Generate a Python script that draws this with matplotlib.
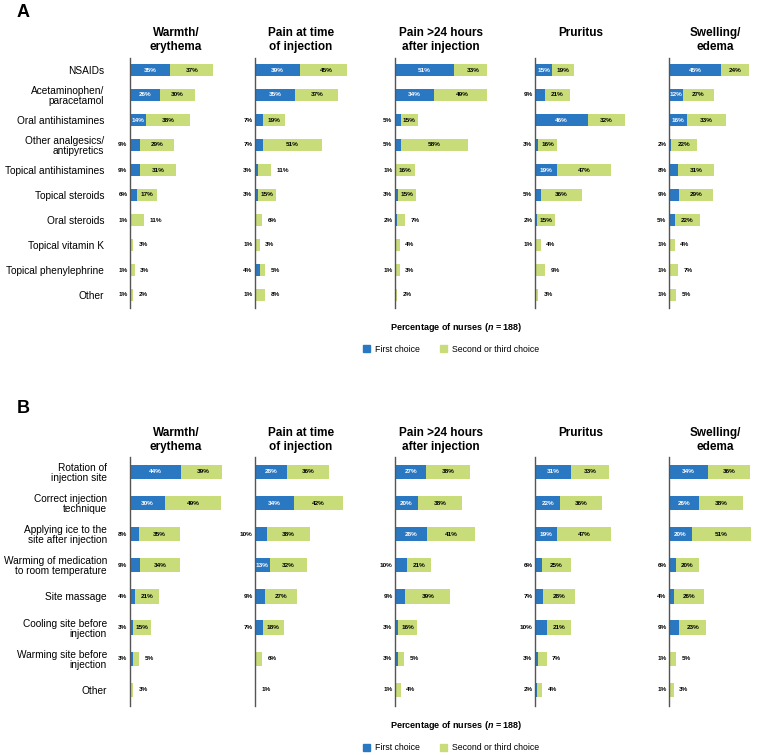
import matplotlib
matplotlib.use("Agg")
import matplotlib.pyplot as plt
from matplotlib.patches import Patch

plt.rcParams['font.family'] = ['Liberation Sans', 'DejaVu Sans']
plt.rcParams['mathtext.fontset'] = 'custom'
plt.rcParams['mathtext.it'] = 'Liberation Sans:italic:bold'
plt.rcParams['mathtext.rm'] = 'Liberation Sans:bold'

# ── Dados ─────────────────────────────────────────────────────────────────────
sintomas = ["Warmth/\nerythema", "Pain at time\nof injection",
            "Pain >24 hours\nafter injection", "Pruritus", "Swelling/\nedema"]

tratamentos_a = ["NSAIDs", "Acetaminophen/\nparacetamol", "Oral antihistamines",
                 "Other analgesics/\nantipyretics", "Topical antihistamines",
                 "Topical steroids", "Oral steroids", "Topical vitamin K",
                 "Topical phenylephrine", "Other"]

primeira_a = [
    [35, 26, 14, 9, 9, 6, 1, 0, 1, 1],
    [39, 35, 7, 7, 3, 3, 0, 1, 4, 1],
    [51, 34, 5, 5, 1, 3, 2, 0, 1, 0],
    [15, 9, 46, 3, 19, 5, 2, 1, 0, 0],
    [45, 12, 16, 2, 8, 9, 5, 1, 1, 1],
]
segunda_a = [
    [37, 30, 38, 29, 31, 17, 11, 3, 3, 2],
    [45, 37, 19, 51, 11, 15, 6, 3, 5, 8],
    [33, 49, 15, 58, 16, 15, 7, 4, 3, 2],
    [19, 21, 32, 16, 47, 36, 15, 4, 9, 3],
    [24, 27, 33, 22, 31, 29, 22, 4, 7, 5],
]

tecnicas_b = ["Rotation of\ninjection site", "Correct injection\ntechnique",
              "Applying ice to the\nsite after injection",
              "Warming of medication\nto room temperature", "Site massage",
              "Cooling site before\ninjection", "Warming site before\ninjection",
              "Other"]

primeira_b = [
    [44, 30, 8, 9, 4, 3, 3, 0],
    [28, 34, 10, 13, 9, 7, 0, 0],
    [27, 20, 28, 10, 9, 3, 3, 1],
    [31, 22, 19, 6, 7, 10, 3, 2],
    [34, 26, 20, 6, 4, 9, 1, 1],
]
segunda_b = [
    [39, 49, 35, 34, 21, 15, 5, 3],
    [36, 42, 38, 32, 27, 18, 6, 1],
    [38, 38, 41, 21, 39, 16, 5, 4],
    [33, 36, 47, 25, 28, 21, 7, 4],
    [36, 38, 51, 20, 26, 23, 5, 3],
]

# ── Layout (em pixels) ───────────────────────────────────────────────────────
W, H = 758, 755
AZUL = "#2B78C2"
VERDE = "#C8DC79"
ESQ_PX = [130, 255, 395, 535, 669]
LARG_PX = 92
ESCALA = 1.155  # px por %

fig = plt.figure(figsize=(W / 100, H / 100), dpi=100)


def desenhar_painel(cats, prim, seg, topo, base, topo_titulo, pad_rotulo, alt_barra):
    n = len(cats)
    y = list(range(n))
    for k in range(5):
        ax = fig.add_axes([ESQ_PX[k] / W, 1 - base / H, LARG_PX / W, (base - topo) / H])
        ax.barh(y, prim[k], height=alt_barra, color=AZUL)
        ax.barh(y, seg[k], left=prim[k], height=alt_barra, color=VERDE)
        ax.set_xlim(0, LARG_PX / ESCALA)
        ax.set_ylim(n - 1 + 0.52, -0.48)
        for s in ["top", "right", "bottom"]:
            ax.spines[s].set_visible(False)
        ax.spines["left"].set_color("#555555")
        ax.spines["left"].set_linewidth(1.0)
        ax.set_xticks([])
        ax.set_yticks(y)
        if k == 0:
            ax.set_yticklabels(cats, fontsize=7.3)
            for lbl in ax.get_yticklabels():
                lbl.set_linespacing(1.0)
            ax.tick_params(axis="y", length=0, pad=pad_rotulo)
        else:
            ax.set_yticklabels([])
            ax.tick_params(axis="y", length=0)

        for i in range(n):
            p, s = prim[k][i], seg[k][i]
            if p >= 12:
                ax.text(p / 2, i, f"{p}%", ha="center", va="center",
                        fontsize=4.6, fontweight="bold", color="white")
            elif p > 0:
                ax.annotate(f"{p}%", (0, i), xytext=(-1.8, 0), textcoords="offset points",
                            ha="right", va="center", fontsize=4.6, fontweight="bold",
                            annotation_clip=False)
            if s >= 13:
                ax.text(p + s / 2, i, f"{s}%", ha="center", va="center",
                        fontsize=4.6, fontweight="bold", color="black")
            elif s > 0:
                ax.annotate(f"{s}%", (p + s, i), xytext=(4, 0), textcoords="offset points",
                            ha="left", va="center", fontsize=4.6, fontweight="bold",
                            annotation_clip=False)

        fig.text((ESQ_PX[k] + LARG_PX / 2) / W, 1 - topo_titulo / H, sintomas[k],
                 ha="center", va="top", fontsize=8.5, fontweight="bold", linespacing=1.2)


desenhar_painel(tratamentos_a, primeira_a, segunda_a, 58, 308, 27, 18.5, 0.48)
desenhar_painel(tecnicas_b, primeira_b, segunda_b, 457, 706, 427, 16.5, 0.46)

fig.text(17 / W, 1 - 4 / H, "A", ha="left", va="top", fontsize=13, fontweight="bold")
fig.text(17 / W, 1 - 400 / H, "B", ha="left", va="top", fontsize=13, fontweight="bold")

legenda = [Patch(color=AZUL, label="First choice"),
           Patch(color=VERDE, label="Second or third choice")]

for y_rot, y_leg in [(327, 349), (726, 748)]:
    fig.text(456 / W, 1 - y_rot / H, "Percentage of nurses ($n$ = 188)",
             ha="center", va="center", fontsize=6.5, fontweight="bold")
    fig.legend(handles=legenda, loc="center", bbox_to_anchor=(451 / W, 1 - y_leg / H),
               ncol=2, frameon=False, fontsize=6.3, handlelength=0.8, handleheight=0.8,
               columnspacing=2.2, handletextpad=0.6)

fig.savefig("out.png", dpi=100)
